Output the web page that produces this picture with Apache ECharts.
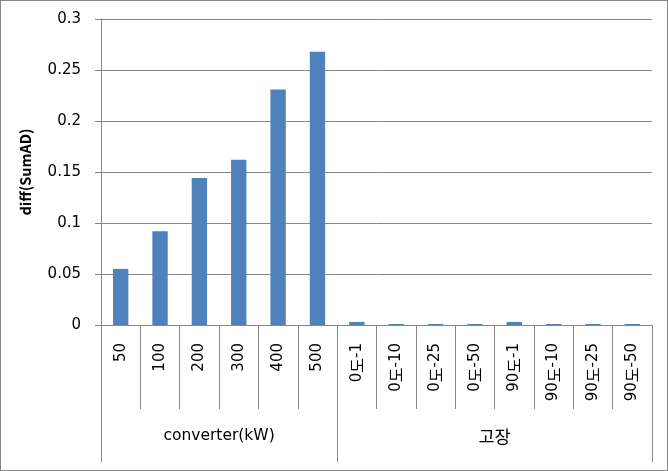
<!DOCTYPE html>
<html><head><meta charset="utf-8">
<script src="https://cdn.jsdelivr.net/npm/echarts@6/dist/echarts.min.js"></script>
<style>
html,body{margin:0;padding:0;background:#fff;}
#c{width:668px;height:471px;box-sizing:border-box;border:1px solid #868686;}
</style></head>
<body><div id="c"></div>
<script>
const categories = ['50','100','200','300','400','500','0도-1','0도-10','0도-25','0도-50','90도-1','90도-10','90도-25','90도-50'];
const values = [0.055, 0.092, 0.144, 0.162, 0.231, 0.268, 0.003, 0.001, 0.001, 0.001, 0.003, 0.001, 0.001, 0.001];
const groupNames = ['converter(kW)', '고장'];
const groupBounds = [0, 6, 14];
const yTicks = [0, 0.05, 0.1, 0.15, 0.2, 0.25, 0.3];

const groupCenters = groupNames.map((_, i) => (groupBounds[i] + groupBounds[i+1]) / 2);
const gray = '#868686';
const font = "'DejaVu Sans', 'Noto Sans CJK KR', sans-serif";
const kfont = "'Noto Sans CJK KR', sans-serif";
const chart = echarts.init(document.getElementById('c'));
chart.setOption({
  animation: false,
  textStyle: { fontFamily: font },
  grid: { left: 100, top: 18, right: 15, bottom: 145, containLabel: false },
  xAxis: [{
    type: 'category', data: categories,
    axisLine: { lineStyle: { color: gray } },
    axisTick: { show: true, length: 84, lineStyle: { color: gray } },
    axisLabel: { rotate: 90, margin: 18, fontSize: 15, color: '#000', fontFamily: font, interval: 0,
      formatter: v => v.replace('도', '{k|도}'),
      rich: { k: { fontFamily: kfont, fontSize: 16, color: '#000' } } }
  }, {
    type: 'value', min: groupBounds[0], max: groupBounds[groupBounds.length-1],
    position: 'bottom',
    axisLine: { show: false }, splitLine: { show: false },
    axisTick: { show: true, customValues: groupBounds, length: 137, lineStyle: { color: gray } },
    axisLabel: { customValues: groupCenters, margin: 103, fontSize: 15.5, color: '#000', fontFamily: font,
      formatter: v => { const i = groupCenters.indexOf(v); if (i < 0) return ''; return /[가-힣]/.test(groupNames[i]) ? '{k|' + groupNames[i] + '}' : groupNames[i]; },
      rich: { k: { fontFamily: kfont, fontSize: 17.5, color: '#000' } } }
  }],
  yAxis: {
    type: 'value', min: yTicks[0], max: yTicks[yTicks.length-1], interval: 0.05,
    name: 'diff(SumAD)', nameLocation: 'middle', nameGap: 68, nameRotate: 90,
    nameTextStyle: { fontWeight: 'bold', fontSize: 14.5, color: '#000', fontFamily: "'Noto Sans CJK KR', sans-serif" },
    axisLine: { show: true, lineStyle: { color: gray } },
    axisTick: { show: true, length: 6, lineStyle: { color: gray } },
    axisLabel: { fontSize: 15, color: '#000', margin: 20, fontFamily: font,
      formatter: v => String(Math.round(v * 100) / 100) },
    splitLine: { show: true, lineStyle: { color: gray } }
  },
  series: [{
    type: 'bar', data: values, xAxisIndex: 0, barWidth: '39%',
    itemStyle: { color: '#4F81BD' }
  }]
});
</script></body></html>
